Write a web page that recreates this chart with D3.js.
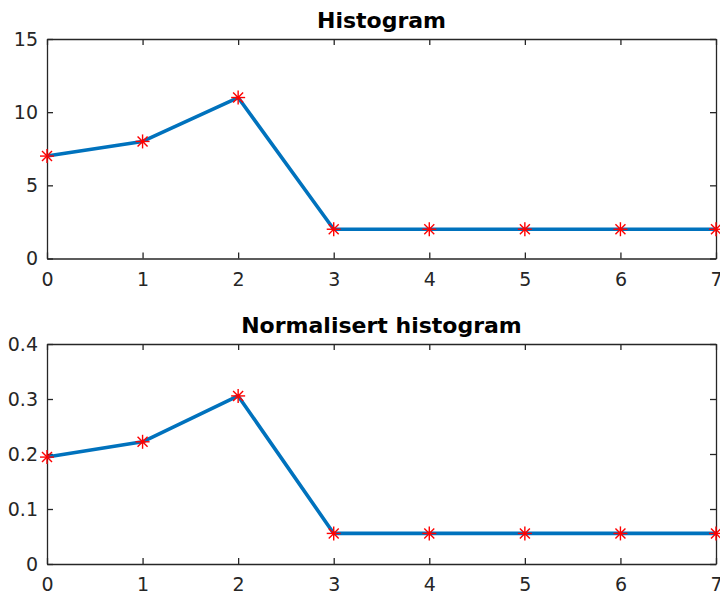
<!DOCTYPE html>
<html><head><meta charset="utf-8">
<script src="https://cdn.jsdelivr.net/npm/d3@7"></script>
<style>body{margin:0;background:#fff}svg{display:block}</style>
</head><body>
<svg id="c" width="720" height="593"></svg>
<script>
const bins = [0, 1, 2, 3, 4, 5, 6, 7];
const counts = [7, 8, 11, 2, 2, 2, 2, 2];
const normalized = [0.1944, 0.2222, 0.3056, 0.0556, 0.0556, 0.0556, 0.0556, 0.0556];
const xTicks = [0, 1, 2, 3, 4, 5, 6, 7];
const yTicksTop = [0, 5, 10, 15];
const yTicksBottom = [0, 0.1, 0.2, 0.3, 0.4];
const titles = ["Histogram", "Normalisert histogram"];

const svg = d3.select("#c");
const font = "DejaVu Sans, sans-serif";
const axisColor = "#262626";

function panel(top, bottom, values, yDomain, yTicks, yFmt, title) {
  const left = 47, right = 716;
  const x = d3.scaleLinear().domain([0, 7]).range([left, right]);
  const y = d3.scaleLinear().domain(yDomain).range([bottom, top]);
  const g = svg.append("g");

  const style = sel => {
    sel.select(".domain").attr("stroke", axisColor).attr("stroke-width", 1.3);
    sel.selectAll(".tick line").attr("stroke", axisColor).attr("stroke-width", 1.3);
    sel.selectAll("text").attr("fill", axisColor).attr("font-family", font).attr("font-size", 19);
  };

  g.append("g").attr("transform", `translate(0,${bottom})`)
    .call(d3.axisBottom(x).tickValues(xTicks).tickFormat(d3.format("d")).tickSizeInner(-6).tickSizeOuter(0).tickPadding(14))
    .call(style);
  g.append("g").attr("transform", `translate(0,${top})`)
    .call(d3.axisTop(x).tickValues(xTicks).tickFormat("").tickSizeInner(-6).tickSizeOuter(0))
    .call(style);
  g.append("g").attr("transform", `translate(${left},0)`)
    .call(d3.axisLeft(y).tickValues(yTicks).tickFormat(yFmt).tickSizeInner(-6).tickSizeOuter(0).tickPadding(9))
    .call(style);
  g.append("g").attr("transform", `translate(${right},0)`)
    .call(d3.axisRight(y).tickValues(yTicks).tickFormat("").tickSizeInner(-6).tickSizeOuter(0))
    .call(style);

  const line = d3.line().x((d, i) => x(bins[i])).y(d => y(d));
  g.append("path").datum(values).attr("d", line)
    .attr("fill", "none").attr("stroke", "#0072BD").attr("stroke-width", 3.6)
    .attr("stroke-linejoin", "round");

  const r = 7, rd = 5;
  const m = g.append("g").selectAll("g").data(values).join("g")
    .attr("transform", (d, i) => `translate(${x(bins[i])},${y(d)})`)
    .attr("stroke", "#ff0000").attr("stroke-width", 1.4);
  m.append("line").attr("x1", -r).attr("x2", r).attr("y1", 0).attr("y2", 0);
  m.append("line").attr("x1", 0).attr("x2", 0).attr("y1", -r).attr("y2", r);
  m.append("line").attr("x1", -rd).attr("x2", rd).attr("y1", -rd).attr("y2", rd);
  m.append("line").attr("x1", -rd).attr("x2", rd).attr("y1", rd).attr("y2", -rd);

  g.append("text").attr("x", (left + right) / 2).attr("y", top - 11)
    .attr("text-anchor", "middle").attr("font-family", font).attr("font-weight", "bold")
    .attr("font-size", 22).attr("fill", "#000").text(title);
}

panel(39, 258.5, counts, [0, 15], yTicksTop, d3.format("d"), titles[0]);
panel(344, 564, normalized, [0, 0.4], yTicksBottom, d => d === 0 ? "0" : d3.format(".1f")(d), titles[1]);
</script>
</body></html>
